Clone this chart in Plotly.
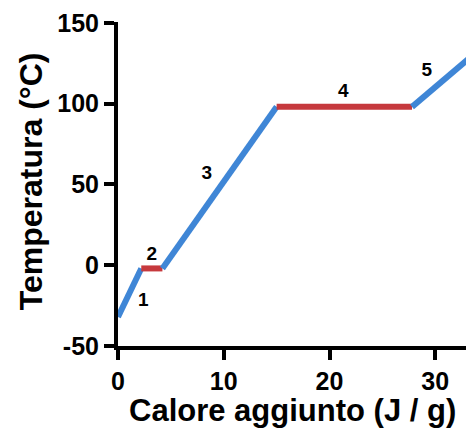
import plotly.graph_objects as go

# Heating curve of water: heat added vs temperature
heat_solid = [0, 2.2]
temp_solid = [-32, -2]
heat_melt = [2.2, 4.2]
temp_melt = [-2, -2]
heat_liquid = [4.2, 15.0]
temp_liquid = [-2, 98]
heat_boil = [15.0, 27.8]
temp_boil = [98, 98]
heat_gas = [27.8, 33.2]
temp_gas = [98, 128]

label_text = ["1", "2", "3", "4", "5"]
label_x = [2.4, 3.2, 8.4, 21.3, 29.2]
label_y = [-22, 6, 56, 107, 120]

x_ticks = [0, 10, 20, 30]
y_ticks = [-50, 0, 50, 100, 150]

BLUE = "#3f86d6"
RED = "#c6393d"
FONT = "Liberation Sans, Arial, sans-serif"

fig = go.Figure()

segments = [
    (heat_solid, temp_solid, BLUE),
    (heat_melt, temp_melt, RED),
    (heat_liquid, temp_liquid, BLUE),
    (heat_boil, temp_boil, RED),
    (heat_gas, temp_gas, BLUE),
]
for xs, ys, col in segments:
    fig.add_trace(go.Scatter(
        x=xs, y=ys, mode="lines",
        line=dict(color=col, width=6),
        showlegend=False, hoverinfo="skip",
    ))

fig.add_trace(go.Scatter(
    x=label_x, y=label_y, mode="text",
    text=[f"<b>{t}</b>" for t in label_text],
    textfont=dict(family=FONT, size=19, color="black"),
    showlegend=False, hoverinfo="skip",
))

axis_common = dict(
    showline=True, linecolor="black", linewidth=4,
    ticks="outside", ticklen=10, tickwidth=4, tickcolor="black",
    showgrid=False, zeroline=False, automargin=False,
    ticklabeloverflow="allow",
    tickfont=dict(family=FONT, size=25, color="black"),
)

# page body has an 8px margin, so the figure is 8px smaller and shifted
fig.update_layout(
    width=466, height=430,
    paper_bgcolor="white", plot_bgcolor="white",
    margin=dict(l=110, r=7, t=14, b=92),
    font=dict(family=FONT, color="black"),
    xaxis=dict(**axis_common, range=[0, 33], tickvals=x_ticks,
               ticktext=[f"<b>{v}</b>" for v in x_ticks]),
    yaxis=dict(**axis_common, range=[-50, 150.5], tickvals=y_ticks,
               ticktext=[f"<b>{v}</b>" for v in y_ticks]),
    annotations=[
        dict(text="<b>Calore aggiunto (J / g)</b>", xref="paper", yref="paper",
             x=0.5, y=-0.2, showarrow=False, yanchor="middle",
             font=dict(family=FONT, size=31, color="black")),
        dict(text="<b>Temperatura (°C)</b>", xref="paper", yref="paper",
             x=-0.249, y=0.509, showarrow=False, textangle=-90,
             xanchor="center", yanchor="middle",
             font=dict(family=FONT, size=32, color="black")),
    ],
)

fig.write_html("out.html")
